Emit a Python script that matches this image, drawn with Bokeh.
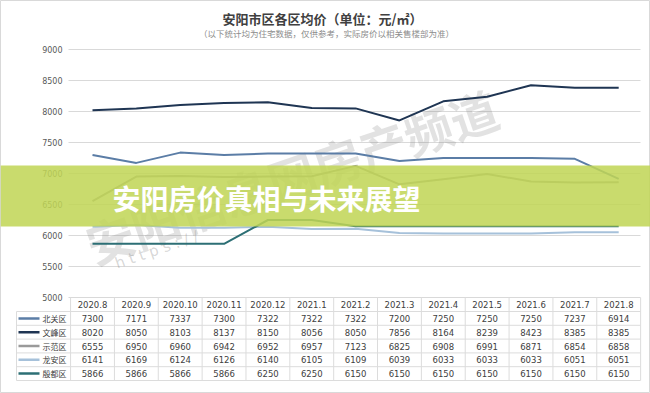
from bokeh.plotting import figure
from bokeh.models import Range1d
from bokeh.core.properties import value
from bokeh.embed import file_html
from bokeh.resources import INLINE

# ---------------- data ----------------
months = ["2020.8", "2020.9", "2020.10", "2020.11", "2020.12", "2021.1", "2021.2",
          "2021.3", "2021.4", "2021.5", "2021.6", "2021.7", "2021.8"]
districts = ["北关区", "文峰区", "示范区", "龙安区", "殷都区"]
beiguan = [7300, 7171, 7337, 7300, 7322, 7322, 7322, 7200, 7250, 7250, 7250, 7237, 6914]
wenfeng = [8020, 8050, 8103, 8137, 8150, 8056, 8050, 7856, 8164, 8239, 8423, 8385, 8385]
shifan = [6555, 6950, 6960, 6942, 6952, 6957, 7123, 6825, 6908, 6991, 6871, 6854, 6858]
longan = [6141, 6169, 6124, 6126, 6140, 6105, 6109, 6039, 6033, 6033, 6033, 6051, 6051]
yindu = [5866, 5866, 5866, 5866, 6250, 6250, 6150, 6150, 6150, 6150, 6150, 6150, 6150]
y_ticks = [5000, 5500, 6000, 6500, 7000, 7500, 8000, 8500, 9000]
y_tick_labels = ["5000", "5500", "6000", "6500", "7000", "7500", "8000", "8500", "9000"]
title_text = "安阳市区各区均价（单位：元/㎡）"
subtitle_text = "（以下统计均为住宅数据，仅供参考，实际房价以相关售楼部为准）"
banner_text = "安阳房价真相与未来展望"
watermark_text = "安阳信息网房产频道"

series = [beiguan, wenfeng, shifan, longan, yindu]
colors = ["#5b7da6", "#1f3553", "#9a9a9a", "#a6c1da", "#2d6f75"]

# ---------------- layout (pixels) ----------------
W, H = 650, 393
COL0, COLW = 92.0, 43.85          # centre of first month, column width
Y_HI_PX, Y_LO_PX = 49.0, 297.0     # pixel rows of 9000 and 5000
k = (Y_LO_PX - Y_HI_PX) / (y_ticks[-1] - y_ticks[0])
xs = -COL0 / COLW
xe = xs + W / COLW
ye = y_ticks[-1] + Y_HI_PX / k
ys = y_ticks[0] - (H - Y_LO_PX) / k

p = figure(width=W, height=H, min_border=0, output_backend="svg", toolbar_location=None,
           x_range=Range1d(xs, xe), y_range=Range1d(ys, ye),
           x_axis_location=None, y_axis_location=None)
p.grid.visible = False
p.outline_line_color = "#d9d9d9"
p.background_fill_color = "white"
p.extra_x_ranges = {"px": Range1d(0, W)}
p.extra_y_ranges = {"py": Range1d(H, 0)}

idx = list(range(len(months)))

# titles
p.text(x=[322], y=[18], text=[title_text], x_range_name="px", y_range_name="py",
       text_align="center", text_baseline="middle", text_font=value("Noto Sans CJK SC"),
       text_font_style="bold", text_font_size="13px", text_color="#404040")
p.text(x=[326], y=[32], text=[subtitle_text], x_range_name="px", y_range_name="py",
       text_align="center", text_baseline="middle", text_font=value("Noto Sans CJK SC"),
       text_font_size="8.5px", text_color="#8c8c8c")

# grid + y tick labels
p.segment(x0=[68] * len(y_ticks), x1=[640] * len(y_ticks), y0=y_ticks, y1=y_ticks,
          x_range_name="px", line_color="#d9d9d9", line_width=1)
p.text(x=[62] * len(y_ticks), y=y_ticks, text=y_tick_labels, x_range_name="px",
       text_align="right", text_baseline="middle", text_font=value("DejaVu Sans"),
       text_font_size="8px", text_color="#595959")

# watermark
p.text(x=[98], y=[278], text=[watermark_text], x_range_name="px", y_range_name="py",
       angle=0.33, text_font=value("Noto Sans CJK SC"), text_font_style="bold",
       text_font_size="48px", text_color="#7a7a7a", text_alpha=0.22,
       text_baseline="bottom")
p.text(x=[118], y=[272], text=["h t t p s : / /"], x_range_name="px", y_range_name="py",
       angle=0.33, text_font=value("DejaVu Sans"), text_font_size="15px",
       text_color="#7a7a7a", text_alpha=0.3, text_baseline="bottom")

# lines
for s, c in zip(series, colors):
    p.line(x=idx, y=s, line_color=c, line_width=2)

# banner
p.quad(left=[0], right=[W], top=[165], bottom=[226], x_range_name="px", y_range_name="py",
       fill_color="#c0d555", fill_alpha=0.86, line_color=None)
p.text(x=[112], y=[197], text=[banner_text], x_range_name="px", y_range_name="py",
       text_align="left", text_baseline="middle", text_font=value("Noto Sans CJK SC"),
       text_font_style="bold", text_font_size="28px", text_color="white")

# ---------------- table ----------------
T_TOP, T_HEAD, T_ROW = 297.0, 14.0, 13.8
n = len(districts)
row_y = [T_TOP + T_HEAD + T_ROW * (r + 0.5) for r in range(n)]
bounds_y = [T_TOP + T_HEAD + T_ROW * r for r in range(n + 1)]
T_BOT = bounds_y[-1]
grid_c = "#dcdcdc"
# horizontal lines
p.segment(x0=[16] * len(bounds_y), x1=[640] * len(bounds_y), y0=bounds_y, y1=bounds_y,
          x_range_name="px", y_range_name="py", line_color=grid_c, line_width=1)
# vertical lines (column boundaries follow the month scale)
vb = [i - 0.5 for i in range(len(months) + 1)]
p.segment(x0=vb, x1=vb, y0=[T_TOP] * len(vb), y1=[T_BOT] * len(vb),
          y_range_name="py", line_color=grid_c, line_width=1)
p.segment(x0=[16], x1=[16], y0=[bounds_y[0]], y1=[T_BOT], x_range_name="px",
          y_range_name="py", line_color=grid_c, line_width=1)
# header
p.text(x=idx, y=[T_TOP + T_HEAD / 2] * len(months), text=months, y_range_name="py",
       text_align="center", text_baseline="middle", text_font=value("DejaVu Sans"),
       text_font_size="8.5px", text_color="#404040")
# rows
for r, (name, s, c) in enumerate(zip(districts, series, colors)):
    p.segment(x0=[18], x1=[39], y0=[row_y[r]], y1=[row_y[r]], x_range_name="px",
              y_range_name="py", line_color=c, line_width=2.5)
    p.text(x=[42], y=[row_y[r]], text=[name], x_range_name="px", y_range_name="py",
           text_align="left", text_baseline="middle", text_font=value("Noto Sans CJK SC"),
           text_font_size="8px", text_color="#404040")
    p.text(x=idx, y=[row_y[r]] * len(s), text=[str(v) for v in s], y_range_name="py",
           text_align="center", text_baseline="middle", text_font=value("DejaVu Sans"),
           text_font_size="8.5px", text_color="#404040")

open("out.html", "w").write(file_html(p, INLINE))
